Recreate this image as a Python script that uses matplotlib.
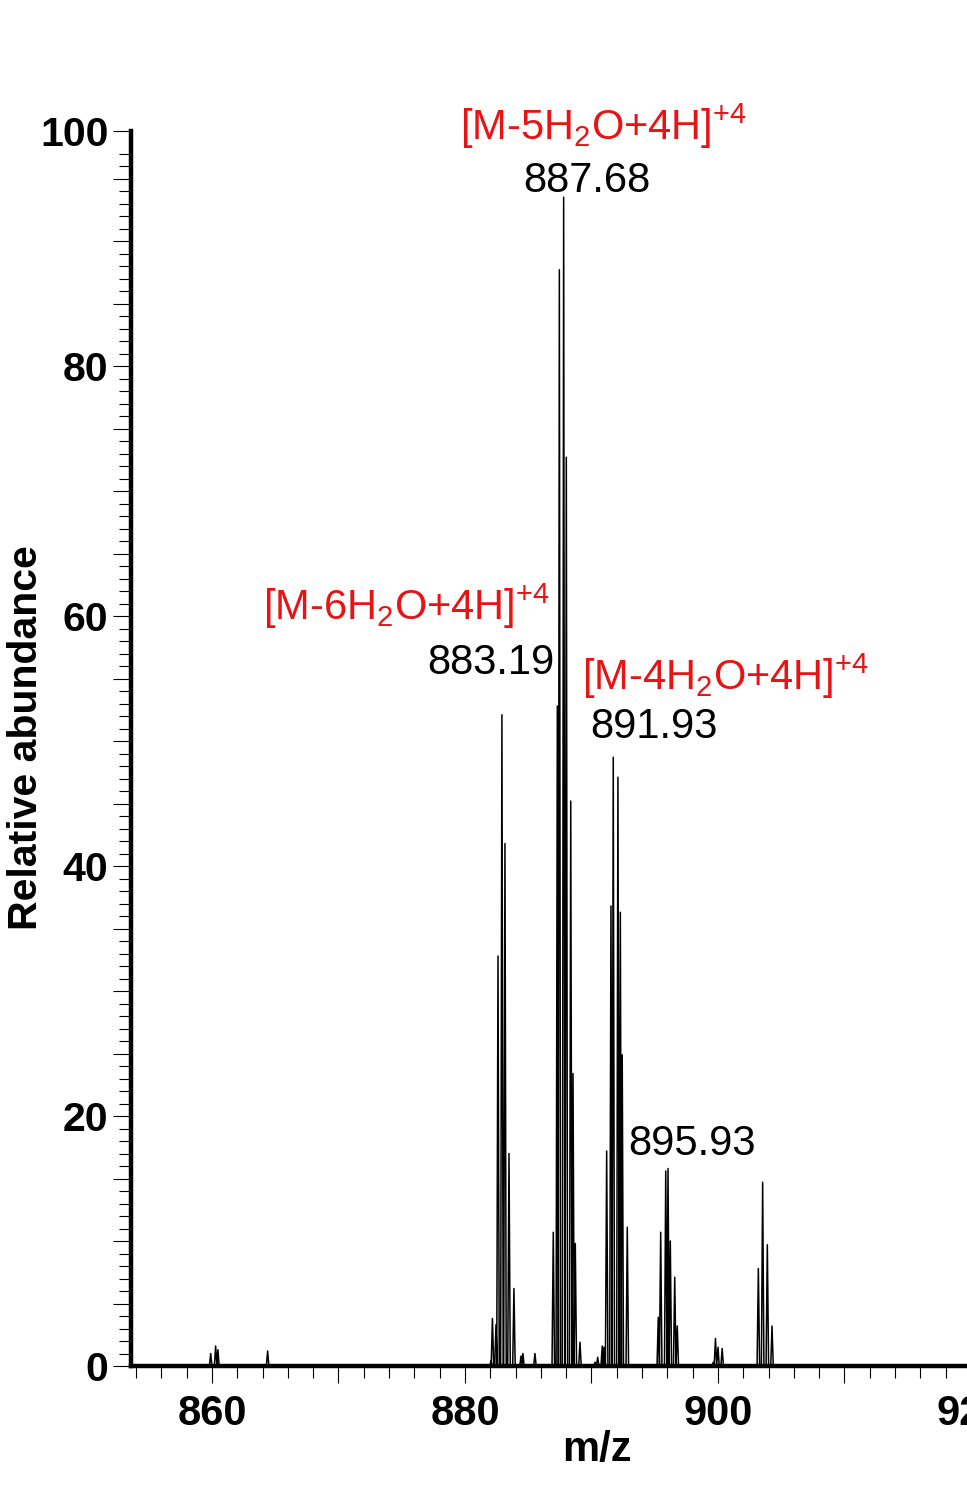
import matplotlib
matplotlib.use("Agg")
import matplotlib.pyplot as plt
from matplotlib.ticker import FixedLocator, MultipleLocator
import numpy as np

plt.rcParams['font.family'] = ['Liberation Sans', 'DejaVu Sans']
plt.rcParams['mathtext.fontset'] = 'custom'
plt.rcParams['mathtext.rm'] = 'Liberation Sans'
plt.rcParams['mathtext.it'] = 'Liberation Sans'

# 峰位 (m/z) 和相对丰度
mz = [859.90, 860.29, 860.47, 864.40,
      882.06, 882.17, 882.45, 882.61, 882.92, 883.16, 883.48, 883.87, 884.43, 884.58, 885.53,
      886.98, 887.30, 887.46, 887.80, 888.01, 888.36, 888.54, 888.72, 889.09,
      890.28, 890.49, 890.85, 890.99,
      891.20, 891.54, 891.72, 892.09, 892.28, 892.43, 892.83,
      895.28, 895.47, 895.87, 896.05, 896.23, 896.58, 896.78,
      899.63, 899.80, 900.00, 900.33,
      903.19, 903.53, 903.90, 904.27]
abundance = [1.0, 1.6, 1.3, 1.2,
             0.4, 3.8, 3.3, 32.8, 52.1, 41.8, 17.0, 6.2, 0.8, 1.0, 1.0,
             10.7, 52.8, 87.7, 93.5, 72.7, 45.2, 23.4, 9.8, 1.9,
             0.3, 0.7, 1.6, 1.5,
             17.2, 36.8, 48.7, 47.1, 36.3, 24.9, 11.1,
             3.9, 10.7, 15.6, 15.8, 10.0, 7.1, 3.2,
             0.3, 2.2, 1.5, 1.4,
             7.8, 14.7, 9.7, 3.2]

# 标注: (文本, m/z 左端, 基线丰度, 颜色)
labels_text = [r'[M-5H$_2$O+4H]$^{+4}$', '887.68',
               r'[M-6H$_2$O+4H]$^{+4}$', '883.19',
               r'[M-4H$_2$O+4H]$^{+4}$', '891.93', '895.93']
labels_mz = [879.6, 884.58, 864.03, 877.0, 889.25, 889.88, 892.89]
labels_y = [98.06, 93.9, 59.7, 55.4, 54.1, 50.2, 16.9]
labels_color = ['#e61414', 'black', '#e61414', 'black', '#e61414', 'black', 'black']

fig = plt.figure(figsize=(9.67, 14.89), dpi=100)
ax = fig.add_axes([130.5 / 967, 1 - 1366 / 1489, (971 - 130.5) / 967, (1366 - 131) / 1489])

# 窄三角形轮廓，模拟质谱线
w = 0.1
px, py = [], []
for m, a in zip(mz, abundance):
    px += [m - w, m, m + w]
    py += [0, a, 0]
ax.plot(px, py, color='black', lw=1.1)

ytop = 98.8
ax.set_xlim(853.56, 920.0)
ax.set_ylim(0, ytop)

for s in ['top', 'right']:
    ax.spines[s].set_visible(False)
ax.spines['left'].set_linewidth(3.2)
ax.spines['bottom'].set_linewidth(3.2)

# x 轴刻度
ax.xaxis.set_minor_locator(MultipleLocator(2))
ax.set_xticks([860, 870, 880, 890, 900, 910, 920])
ax.set_xticklabels(['860', '', '880', '', '900', '', '920'])
ax.tick_params(axis='x', which='major', length=12, width=0.8, direction='out', pad=8)
ax.tick_params(axis='x', which='minor', length=8.5, width=0.8, direction='out')

# y 轴刻度
ymaj = [v for v in range(0, 100, 5) if v <= ytop] + [ytop]
ylab = [str(v) if v % 20 == 0 else '' for v in ymaj[:-1]] + ['100']
ax.yaxis.set_major_locator(FixedLocator(ymaj))
ax.set_yticklabels(ylab)
ax.yaxis.set_minor_locator(FixedLocator([v for v in range(1, 98) if v % 5 != 0]))
ax.tick_params(axis='y', which='major', length=13, width=0.8, direction='out', pad=3)
ax.tick_params(axis='y', which='minor', length=9, width=0.8, direction='out')

for t in ax.get_xticklabels():
    t.set_fontsize(30)
    t.set_fontweight('bold')
for t in ax.get_yticklabels():
    t.set_fontsize(29.5)
    t.set_fontweight('bold')

ax.set_xlabel('m/z', fontsize=30, fontweight='bold')
ax.xaxis.set_label_coords(0.555, -0.0518)
ax.set_ylabel('Relative abundance', fontsize=29.5, fontweight='bold')
ax.yaxis.set_label_coords(-0.1017, 0.509)

for txt, x, y, c in zip(labels_text, labels_mz, labels_y, labels_color):
    ax.text(x, y, txt, color=c, fontsize=30, ha='left', va='baseline', clip_on=False)

fig.savefig('out.png', dpi=100)
